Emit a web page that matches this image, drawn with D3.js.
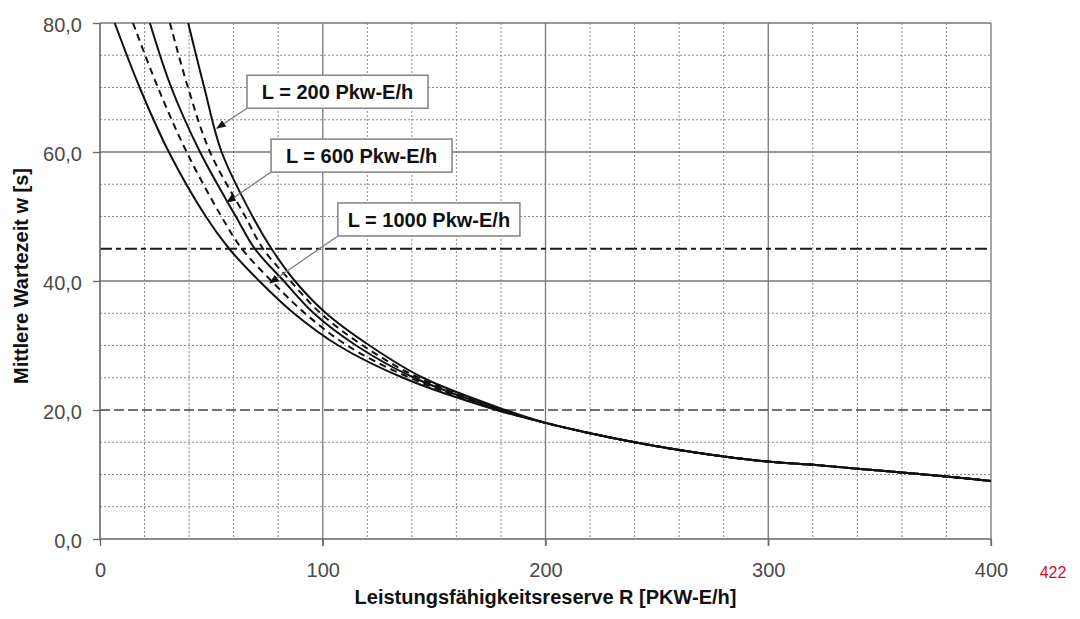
<!DOCTYPE html>
<html><head><meta charset="utf-8">
<script src="https://cdn.jsdelivr.net/npm/d3@7"></script>
<style>body{margin:0;background:#fff}svg{display:block}</style>
</head><body>
<svg id="chart" width="1080" height="619"></svg>
<script>
// ---- data ----
const headY = [80, 70, 60, 50, 45, 40, 35, 30, 25, 20];
const tailX = [200, 220, 240, 260, 280, 300, 320, 340, 360, 380, 400];
const tailY = [18.0, 16.4, 15.0, 13.8, 12.8, 12.0, 11.5, 10.9, 10.3, 9.7, 9.0];

const l1000SolidX = [6.6, 17.8, 30.9, 47.5, 58.0, 71.5, 87, 107, 136, 178];
const l1000DashX  = [14.8, 26.0, 38.9, 54.5, 63.7, 77, 92, 111, 139, 179];
const l600SolidX  = [22.4, 32.0, 44.9, 61.0, 69.5, 82.5, 96, 115, 141, 180];
const l600DashX   = [31.4, 39.5, 49.4, 65.2, 73.2, 85.5, 99, 118, 143, 181];
const l200SolidX  = [39.6, 46.8, 54.6, 68.5, 77.0, 87.5, 101.5, 121, 145, 182];

const xTicks = [0, 100, 200, 300, 400];
const yTicks = [0, 20, 40, 60, 80];
const xMinor = [20, 40, 60, 80, 120, 140, 160, 180, 220, 240, 260, 280, 320, 340, 360, 380];
const yMinor = [5, 10, 15, 25, 30, 35, 50, 55, 65, 70, 75];
const ySolid = [40, 60, 80];
const xSolid = [100, 200, 300, 400];
const refDashed = 20;
const refDashDot = 45;

const labels = ["L = 200 Pkw-E/h", "L = 600 Pkw-E/h", "L = 1000 Pkw-E/h"];
const labelAnchorX = [66.0, 76.8, 106.8];
const labelAnchorY = [71.9, 62.0, 52.1];
const arrowTipX = [52.5, 57.0, 76.3];
const arrowTipY = [63.7, 52.2, 39.7];

const xTitle = "Leistungsfähigkeitsreserve R [PKW-E/h]";
const yTitle = "Mittlere Wartezeit w [s]";
const pageNumber = "422";

// ---- build ----
const mk = (xs, dash) => ({x: xs.concat(tailX), y: headY.concat(tailY), dash});
const series = [
  mk(l1000SolidX, null),
  mk(l1000DashX, "7,5"),
  mk(l600SolidX, null),
  mk(l600DashX, "7,5"),
  mk(l200SolidX, null)
];

const m = {left: 100, top: 23}, W = 891, H = 516;
const svg = d3.select("#chart");
const g = svg.append("g").attr("transform", `translate(${m.left},${m.top})`);
const x = d3.scaleLinear().domain([0, 400]).range([0, W]);
const y = d3.scaleLinear().domain([0, 80]).range([H, 0]);
const de = d3.formatLocale({decimal: ",", thousands: ".", grouping: [3], currency: ["", "€"]});
const f1 = de.format(".1f");
const FONT = "'Liberation Sans', Arial, sans-serif";

// minor grids
g.selectAll(".vminor").data(xMinor).join("line")
  .attr("x1", d => x(d)).attr("x2", d => x(d)).attr("y1", 0).attr("y2", H)
  .attr("stroke", "#8a8a8a").attr("stroke-width", 1).attr("stroke-dasharray", "2,2");
g.selectAll(".hminor").data(yMinor).join("line")
  .attr("x1", 0).attr("x2", W).attr("y1", d => y(d)).attr("y2", d => y(d))
  .attr("stroke", "#8a8a8a").attr("stroke-width", 1).attr("stroke-dasharray", "2,2");
// solid grids
g.selectAll(".vsolid").data(xSolid).join("line")
  .attr("x1", d => x(d)).attr("x2", d => x(d)).attr("y1", 0).attr("y2", H + 7)
  .attr("stroke", "#777").attr("stroke-width", 1.3);
g.selectAll(".hsolid").data(ySolid).join("line")
  .attr("x1", 0).attr("x2", W).attr("y1", d => y(d)).attr("y2", d => y(d))
  .attr("stroke", "#777").attr("stroke-width", 1.3);
// reference lines
g.append("line").attr("x1", 0).attr("x2", W).attr("y1", y(refDashed)).attr("y2", y(refDashed))
  .attr("stroke", "#444").attr("stroke-width", 1.3).attr("stroke-dasharray", "10,4");
g.append("line").attr("x1", 0).attr("x2", W).attr("y1", y(refDashDot)).attr("y2", y(refDashDot))
  .attr("stroke", "#1a1a1a").attr("stroke-width", 2.2).attr("stroke-dasharray", "12,4,5,4");

// axes
const yAxis = d3.axisLeft(y).tickValues(yTicks).tickSize(7).tickFormat(f1);
const xAxis = d3.axisBottom(x).tickValues(xTicks).tickSize(7).tickFormat(d3.format("d"));
const ya = g.append("g").call(yAxis);
const xa = g.append("g").attr("transform", `translate(0,${H})`).call(xAxis);
[ya, xa].forEach(a => {
  a.select(".domain").attr("stroke", "#666").attr("stroke-width", 1.6);
  a.selectAll(".tick line").attr("stroke", "#666").attr("stroke-width", 1.3);
  a.selectAll("text").attr("fill", "#4a4a4a").style("font-family", FONT).style("font-size", "20px");
});
ya.select(".domain").attr("d", `M0,${H}V0`);
xa.select(".domain").attr("d", `M0,0H${W}`);
ya.selectAll("text").attr("x", -18).attr("dy", "0.4em");
xa.selectAll("text").attr("y", 24).attr("dy", "0.71em");

// curves
g.append("clipPath").attr("id", "clip").append("rect").attr("width", W).attr("height", H);
const line = d3.line().x(d => x(d[0])).y(d => y(d[1])).curve(d3.curveCatmullRom.alpha(0.5));
g.append("g").attr("clip-path", "url(#clip)").selectAll("path").data(series).join("path")
  .attr("d", s => line(s.x.map((v, i) => [v, s.y[i]])))
  .attr("fill", "none").attr("stroke", "#111").attr("stroke-width", 2)
  .attr("stroke-dasharray", s => s.dash);

// annotations
const defs = svg.append("defs");
defs.append("marker").attr("id", "ah").attr("viewBox", "0 0 10 10").attr("refX", 9).attr("refY", 5)
  .attr("markerWidth", 8).attr("markerHeight", 8).attr("orient", "auto")
  .append("path").attr("d", "M0,1L10,5L0,9Z").attr("fill", "#111");
labels.forEach((t, i) => {
  const bx = x(labelAnchorX[i]), by = y(labelAnchorY[i]);
  const bw = i === 2 ? 182 : 181, bh = 33;
  g.append("line").attr("x1", bx).attr("y1", by + bh).attr("x2", x(arrowTipX[i])).attr("y2", y(arrowTipY[i]))
    .attr("stroke", "#777").attr("stroke-width", 1.2).attr("marker-end", "url(#ah)");
  g.append("rect").attr("x", bx).attr("y", by).attr("width", bw).attr("height", bh)
    .attr("fill", "#fff").attr("stroke", "#8a8a8a").attr("stroke-width", 1.6);
  g.append("text").attr("x", bx + bw / 2).attr("y", by + bh / 2).attr("dy", "0.36em")
    .attr("text-anchor", "middle").style("font-family", FONT).style("font-weight", "bold")
    .style("font-size", "20px").attr("fill", "#111").text(t);
});

// titles
svg.append("text").attr("x", m.left + W / 2).attr("y", 604).attr("text-anchor", "middle")
  .style("font-family", FONT).style("font-weight", "bold").style("font-size", "20px").attr("fill", "#111").text(xTitle);
svg.append("text").attr("transform", "translate(28,276) rotate(-90)").attr("text-anchor", "middle")
  .style("font-family", FONT).style("font-weight", "bold").style("font-size", "20px").attr("fill", "#111").text(yTitle);
svg.append("text").attr("x", 1053).attr("y", 578).attr("text-anchor", "middle")
  .style("font-family", FONT).style("font-size", "16px").attr("fill", "#d0101c").text(pageNumber);
</script>
</body></html>
